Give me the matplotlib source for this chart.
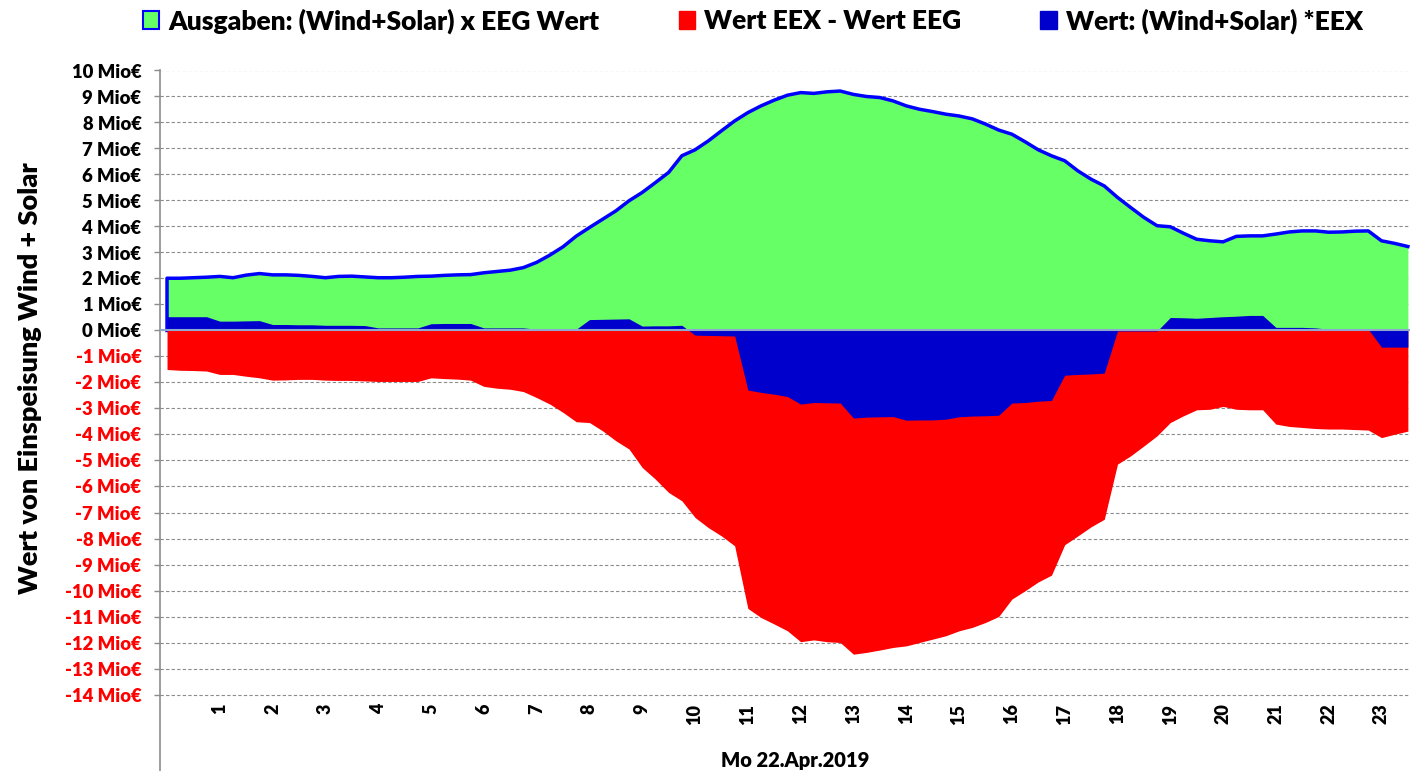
import numpy as np
import matplotlib
matplotlib.use("Agg")
import matplotlib.pyplot as plt
from matplotlib.patches import Patch

plt.rcParams['font.family'] = ['Lato', 'DejaVu Sans']
plt.rcParams['font.weight'] = 'bold'

# viertelstunden 0:00 .. 23:30
hours = np.arange(95) * 0.25

# Ausgaben: (Wind+Solar) x EEG Wert  [Mio EUR]
eeg_wert = [
    2.01, 2.01, 2.03, 2.05,  2.08, 2.03, 2.13, 2.19,  2.14, 2.14, 2.12, 2.08,
    2.03, 2.08, 2.09, 2.06,  2.03, 2.03, 2.05, 2.08,  2.09, 2.12, 2.14, 2.15,
    2.22, 2.27, 2.32, 2.42,  2.62, 2.90, 3.22, 3.63,  3.96, 4.28, 4.60, 4.99,
    5.31, 5.69, 6.08, 6.72,  6.95, 7.29, 7.68, 8.06,  8.38, 8.64, 8.86, 9.05,
    9.15, 9.12, 9.18, 9.21,  9.08, 9.00, 8.96, 8.83,  8.64, 8.51, 8.42, 8.32,
    8.25, 8.14, 7.94, 7.71,  7.55, 7.26, 6.95, 6.72,  6.53, 6.14, 5.82, 5.56,
    5.12, 4.73, 4.35, 4.03,  3.99, 3.74, 3.51, 3.45,  3.41, 3.62, 3.64, 3.64,
    3.71, 3.79, 3.83, 3.83,  3.78, 3.79, 3.82, 3.83,  3.45, 3.35, 3.23,
]

# Wert: (Wind+Solar) * EEX
eex_wert = [
    0.53, 0.53, 0.53, 0.53,  0.36, 0.36, 0.37, 0.38,  0.23, 0.23, 0.22, 0.22,
    0.20, 0.20, 0.20, 0.19,  0.10, 0.10, 0.10, 0.10,  0.26, 0.27, 0.27, 0.27,
    0.10, 0.10, 0.10, 0.10,  0.05, 0.05, 0.05, 0.05,  0.42, 0.43, 0.44, 0.45,
    0.17, 0.18, 0.18, 0.20,  -0.18, -0.19, -0.20, -0.21,  -2.29, -2.38, -2.45, -2.54,
    -2.83, -2.77, -2.78, -2.79,  -3.37, -3.33, -3.32, -3.31,  -3.45, -3.44, -3.44, -3.41,
    -3.32, -3.29, -3.28, -3.26,  -2.79, -2.77, -2.72, -2.69,  -1.72, -1.69, -1.67, -1.64,
    -0.02, -0.02, -0.02, -0.02,  0.50, 0.49, 0.47, 0.50,  0.53, 0.55, 0.58, 0.58,
    0.12, 0.12, 0.12, 0.10,  0.05, 0.05, 0.05, 0.05,  -0.64, -0.64, -0.64,
]

# Wert EEX - Wert EEG
differenz = [
    -1.50, -1.53, -1.54, -1.56,  -1.69, -1.69, -1.76, -1.82,  -1.91, -1.90, -1.88, -1.88,
    -1.91, -1.92, -1.92, -1.94,  -1.96, -1.96, -1.96, -1.96,  -1.82, -1.85, -1.87, -1.91,
    -2.15, -2.22, -2.26, -2.35,  -2.58, -2.83, -3.15, -3.51,  -3.54, -3.86, -4.24, -4.56,
    -5.27, -5.72, -6.23, -6.55,  -7.19, -7.58, -7.90, -8.28,  -10.69, -11.04, -11.29, -11.55,
    -11.97, -11.90, -11.97, -12.00,  -12.45, -12.38, -12.29, -12.19,  -12.13, -12.00, -11.87, -11.74,
    -11.55, -11.42, -11.23, -11.00,  -10.33, -10.01, -9.67, -9.41,  -8.24, -7.90, -7.55, -7.26,
    -5.14, -4.82, -4.44, -4.05,  -3.54, -3.28, -3.05, -3.03,  -2.92, -3.03, -3.05, -3.05,
    -3.60, -3.69, -3.73, -3.77,  -3.79, -3.79, -3.81, -3.83,  -4.12, -3.99, -3.87,
]

hour_labels = list(range(1, 24))
y_ticks = list(range(-14, 11))

fig = plt.figure(figsize=(14.1, 7.71), dpi=100)
ax = fig.add_axes([160 / 1410, 0, 1250 / 1410, 700.5 / 771])

# --- flaechen ---
ax.fill_between(hours, 0, eeg_wert, color='#66FF66', lw=0, zorder=2)
ax.plot(np.r_[hours[0], hours], np.r_[0, eeg_wert], color='#0000FF', lw=2.5,
        solid_joinstyle='round', zorder=3)
ax.fill_between(hours, 0, differenz, color='#FF0000', lw=0, zorder=3)
ax.fill_between(hours, 0, eex_wert, color='#0000CC', lw=0, zorder=4)
ax.axhline(0, color='#8FA8D0', lw=1.5, zorder=5)

ax.set_xlim(-0.133, 23.54)
ax.set_ylim(10 - 700.5 / 26, 10)

# --- y achse ---
ax.set_yticks(y_ticks)
ax.set_yticklabels([f"{v} Mio€" for v in y_ticks], fontsize=13.3, fontweight='heavy')
for lab, v in zip(ax.get_yticklabels(), y_ticks):
    lab.set_color('red' if v < 0 else 'black')
ax.tick_params(axis='y', length=4.3, width=1, color='#8c8c8c', pad=9)
ax.yaxis.grid(True, linestyle=(0, (3, 2)), color='#8c8c8c', lw=0.8)
ax.set_axisbelow(True)

# --- x achse ---
ax.set_xticks([])
for h in hour_labels:
    ax.text(h, -14.35, str(h), rotation=90, ha='center', va='top',
            fontsize=13, fontweight='heavy')

for s in ['top', 'right', 'bottom']:
    ax.spines[s].set_visible(False)
ax.spines['left'].set_color('#8c8c8c')
ax.spines['left'].set_linewidth(1.2)

fig.text(795 / 1410, 1 - 761 / 771, "Mo 22.Apr.2019", ha='center', va='center',
         fontsize=14.5, fontweight='heavy')
fig.text(30 / 1410, 1 - 378 / 771, "Wert von Einspeisung Wind + Solar", rotation=90,
         ha='center', va='center', fontsize=19.5, fontweight='heavy')

# --- legende ---
handles = [
    Patch(facecolor='#66FF66', edgecolor='#0000FF', lw=1.5),
    Patch(facecolor='#FF0000', edgecolor='#FF0000'),
    Patch(facecolor='#0000CC', edgecolor='#0000CC'),
]
labels = ["Ausgaben: (Wind+Solar) x EEG Wert", "Wert EEX - Wert EEG",
          "Wert: (Wind+Solar) *EEX"]
fig.legend(handles, labels, loc='center', bbox_to_anchor=(753 / 1410, 1 - 21 / 771),
           ncol=3, frameon=False, prop={'size': 19, 'weight': 'heavy'},
           handlelength=0.62, handleheight=0.62, handletextpad=0.35, columnspacing=3.0)

fig.savefig("out.png", dpi=100)
